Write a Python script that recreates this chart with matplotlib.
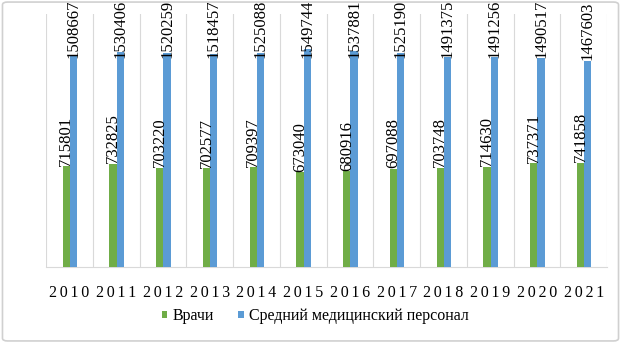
import matplotlib.pyplot as plt
from matplotlib.patches import FancyBboxPatch
import numpy as np

years = ['2010', '2011', '2012', '2013', '2014', '2015',
         '2016', '2017', '2018', '2019', '2020', '2021']
doctors = [715801, 732825, 703220, 702577, 709397, 673040,
           680916, 697088, 703748, 714630, 737371, 741858]
nurses = [1508667, 1530406, 1520259, 1518457, 1525088, 1549744,
          1537881, 1525190, 1491375, 1491256, 1490517, 1467603]
series_names = ['Врачи', 'Средний медицинский персонал']

green = '#70AD47'
blue = '#5B9BD5'
plt.rcParams['font.family'] = ['Liberation Serif', 'DejaVu Serif']

fig = plt.figure(figsize=(6.21, 3.43), dpi=100)
ax = fig.add_axes([0.0741, 0.2216, 0.9034, 0.7374])

x = np.arange(len(years)) + 0.5
w = 0.155
b1 = ax.bar(x - 0.066, doctors, w, color=green, label=series_names[0], zorder=3)
b2 = ax.bar(x + 0.09, nurses, w, color=blue, label=series_names[1], zorder=3)

# labels that would run past the top get pushed down like in Excel
label_cap = 1480000
for bars, vals in ((b1, doctors), (b2, nurses)):
    for r, v in zip(bars, vals):
        ax.annotate(str(v), (r.get_x() + r.get_width() / 2, min(v, label_cap)),
                    xytext=(0, 0.5), textcoords='offset points',
                    rotation=90, ha='center', va='bottom',
                    fontsize=12, annotation_clip=False, zorder=4)

ax.set_xlim(0, len(years))
ax.set_ylim(0, 1800000)
ax.set_yticks([])
for i in range(len(years) + 1):
    ax.axvline(i, color='#d9d9d9', lw=0.8, zorder=1)

# spaced-out year labels
ax.set_xticks(x)
ax.set_xticklabels(['\u200a\u200a'.join(y) for y in years], fontsize=11.5)
ax.tick_params(axis='x', length=0, pad=13)
for s in ['top', 'left', 'right']:
    ax.spines[s].set_visible(False)
ax.spines['bottom'].set_color('#d9d9d9')

fig.legend(handles=[b1, b2], labels=series_names, loc='center',
           bbox_to_anchor=(0.508, 0.078), ncol=2, frameon=False,
           fontsize=11.5, handlelength=0.35,
           handleheight=0.35, handletextpad=0.35, columnspacing=1.5)

border = FancyBboxPatch((0.004, 0.006), 0.992, 0.988,
                        boxstyle='round,pad=0,rounding_size=0.008',
                        transform=fig.transFigure, fill=False,
                        edgecolor='#d0d0d0', lw=1.2)
fig.patches.append(border)

fig.savefig('out.png', dpi=100)
